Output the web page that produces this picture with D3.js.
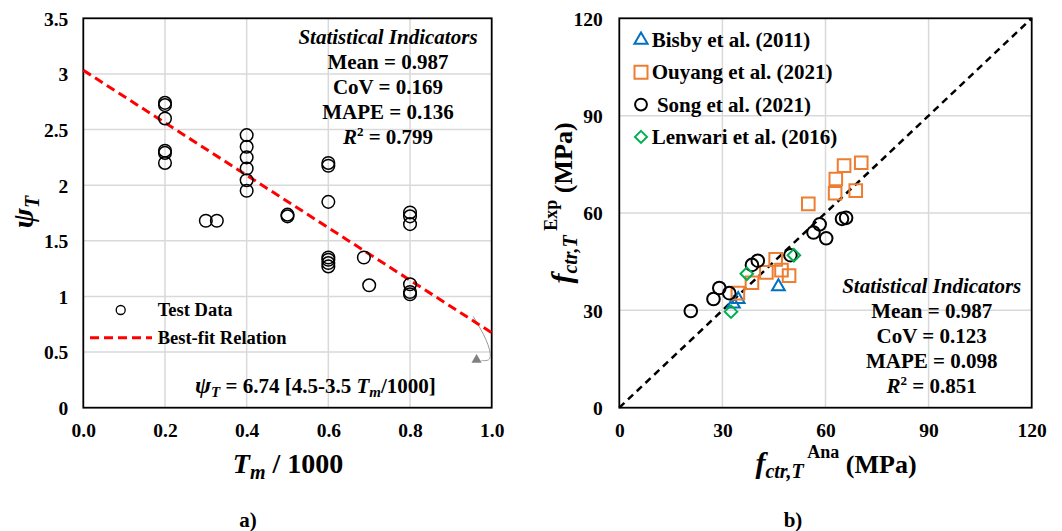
<!DOCTYPE html>
<html>
<head>
<meta charset="utf-8">
<script src="https://cdn.jsdelivr.net/npm/d3@7"></script>
<style>
  body { margin: 0; background: #fff; }
  svg { font-family: "Liberation Serif", "Times New Roman", serif; font-weight: bold; }
</style>
</head>
<body>
<svg id="chart" width="1062" height="531"></svg>
<script>
// ---- panel a) data ----
const tmVals  = [0.2, 0.2, 0.2, 0.2, 0.2, 0.2, 0.30, 0.327, 0.4, 0.4, 0.4, 0.4, 0.4, 0.4,
                 0.5, 0.5, 0.6, 0.6, 0.6, 0.6, 0.6, 0.6, 0.6, 0.687, 0.70, 0.8, 0.8, 0.8, 0.8, 0.8, 0.8];
const psiVals = [2.74, 2.72, 2.60, 2.31, 2.29, 2.20, 1.68, 1.68, 2.45, 2.345, 2.25, 2.15, 2.045, 1.95,
                 1.735, 1.72, 2.20, 2.175, 1.85, 1.35, 1.33, 1.30, 1.27, 1.35, 1.10, 1.755, 1.72, 1.65, 1.11, 1.04, 1.02];
const fitLine = [[0, 3.033], [1.0, 0.674]];
const arrowPath = [[0.955, 0.82], [0.99, 0.6], [1.0, 0.45], [0.99, 0.42], [0.975, 0.425]];
const arrowHead = [0.963, 0.43];
const xTicksA = [0, 0.2, 0.4, 0.6, 0.8, 1.0];
const yTicksA = [0, 0.5, 1, 1.5, 2, 2.5, 3, 3.5];
const statsA = ["Mean = 0.987", "CoV = 0.169", "MAPE = 0.136", "0.799"];

// ---- panel b) data ----
const bisby   = [[33.2, 32.0], [34.6, 33.4], [46.3, 37.3]];
const ouyang  = [[34.5, 35.3], [38.6, 38.5], [42.8, 41.7], [45.5, 45.7], [47.2, 42.4], [49.4, 40.7],
                 [55.0, 62.8], [62.8, 66.1], [63.0, 70.5], [65.4, 74.6], [70.4, 75.5], [68.8, 66.9]];
const song    = [[20.8, 29.8], [27.4, 33.5], [29.1, 36.9], [32.0, 35.3], [38.6, 44.0], [40.3, 45.3],
                 [49.8, 47.0], [56.5, 54.0], [58.3, 56.5], [60.2, 52.2], [64.8, 58.2], [66.0, 58.5]];
const lenwari = [[32.5, 29.6], [37.1, 41.3], [50.8, 47.0]];
const ticksB = [0, 30, 60, 90, 120];
const seriesB = [
  { name: "Bisby et al. (2011)",   data: bisby,   color: "#0070C0", shape: "triangle" },
  { name: "Ouyang et al. (2021)",  data: ouyang,  color: "#ED7D31", shape: "square" },
  { name: " Song et al. (2021)",   data: song,    color: "#000000", shape: "circle" },
  { name: "Lenwari et al. (2016)", data: lenwari, color: "#00B050", shape: "diamond" }
];
const statsB = ["Mean = 0.987", "CoV = 0.123", "MAPE = 0.098", "0.851"];

const svg = d3.select("#chart");
const grid = "#d9d9d9";
const tickFont = "19.5px";

// ================= panel a =================
const xA = d3.scaleLinear().domain([0, 1]).range([83.3, 491.7]);
const yA = d3.scaleLinear().domain([0, 3.5]).range([407.7, 18.3]);
const gA = svg.append("g");

gA.selectAll(".gx").data(xTicksA.slice(1, -1)).enter().append("line")
  .attr("x1", d => xA(d)).attr("x2", d => xA(d))
  .attr("y1", yA(0)).attr("y2", yA(3.5))
  .attr("stroke", grid).attr("stroke-width", 1.5);
gA.selectAll(".gy").data(yTicksA.slice(1, -1)).enter().append("line")
  .attr("x1", xA(0)).attr("x2", xA(1))
  .attr("y1", d => yA(d)).attr("y2", d => yA(d))
  .attr("stroke", grid).attr("stroke-width", 1.5);

gA.append("g")
  .attr("transform", `translate(0,${yA(0)})`)
  .call(d3.axisBottom(xA).tickValues(xTicksA).tickFormat(d3.format(".1f")).tickSize(0))
  .call(g => g.select(".domain").remove())
  .call(g => g.selectAll("text").attr("y", 29.5).attr("dy", 0)
    .style("font-size", tickFont).style("font-family", "Liberation Serif").style("font-weight", "bold").attr("fill", "#000"));

gA.append("g")
  .attr("transform", `translate(${xA(0)},0)`)
  .call(d3.axisLeft(yA).tickValues(yTicksA).tickFormat(d => d).tickSize(0))
  .call(g => g.select(".domain").remove())
  .call(g => g.selectAll("text").attr("x", -15).attr("dy", "0.35em")
    .style("font-size", tickFont).style("font-family", "Liberation Serif").style("font-weight", "bold").attr("fill", "#000"));

gA.append("rect")
  .attr("x", xA(0)).attr("y", yA(3.5))
  .attr("width", xA(1) - xA(0)).attr("height", yA(0) - yA(3.5))
  .attr("fill", "none").attr("stroke", "#000").attr("stroke-width", 1.8);

// leftover arrow annotation
gA.append("path")
  .attr("d", d3.line().x(d => xA(d[0])).y(d => yA(d[1])).curve(d3.curveBasis)(arrowPath))
  .attr("fill", "none").attr("stroke", "#999").attr("stroke-width", 1);
gA.append("path")
  .attr("d", d3.symbol(d3.symbolTriangle, 45)())
  .attr("transform", `translate(${xA(arrowHead[0])},${yA(arrowHead[1])})`)
  .attr("fill", "#808080");

gA.append("path")
  .attr("d", d3.line().x(d => xA(d[0])).y(d => yA(d[1]))(fitLine))
  .attr("stroke", "#ff0000").attr("stroke-width", 3).attr("stroke-dasharray", "9,5").attr("fill", "none");

gA.selectAll(".pt").data(tmVals).enter().append("circle")
  .attr("cx", d => xA(d)).attr("cy", (d, i) => yA(psiVals[i]))
  .attr("r", 6.3).attr("fill", "none").attr("stroke", "#000").attr("stroke-width", 1.5);

// stats a
const stA = gA.append("text").attr("text-anchor", "middle").style("font-size", "21px");
stA.append("tspan").attr("x", 388).attr("y", 43.5).style("font-style", "italic").text("Statistical Indicators");
statsA.slice(0, 3).forEach((s, i) => stA.append("tspan").attr("x", 388).attr("y", 68.5 + 25 * i).text(s));
const r2A = gA.append("text").attr("x", 388).attr("y", 143.5).attr("text-anchor", "middle").style("font-size", "21px");
r2A.append("tspan").style("font-style", "italic").text("R");
r2A.append("tspan").attr("dy", -8).style("font-size", "13px").text("2");
r2A.append("tspan").attr("dy", 8).text(" = " + statsA[3]);

// legend a
gA.append("circle").attr("cx", 120.7).attr("cy", 310).attr("r", 4.5)
  .attr("fill", "none").attr("stroke", "#000").attr("stroke-width", 1.3);
gA.append("text").attr("x", 157.7).attr("y", 316).style("font-size", "18.5px").text("Test Data");
gA.append("line").attr("x1", 90).attr("x2", 152).attr("y1", 337.7).attr("y2", 337.7)
  .attr("stroke", "#ff0000").attr("stroke-width", 3).attr("stroke-dasharray", "9,5");
gA.append("text").attr("x", 157.7).attr("y", 343.5).style("font-size", "18.5px").text("Best-fit Relation");

// formula
const fm = gA.append("text").attr("x", 195).attr("y", 393).style("font-size", "21px");
fm.append("tspan").style("font-style", "italic").style("font-size", "24px").text("ψ");
fm.append("tspan").style("font-style", "italic").style("font-size", "15px").attr("dy", 4).text("T");
fm.append("tspan").attr("dy", -4).text(" = 6.74 [4.5-3.5 ");
fm.append("tspan").style("font-style", "italic").text("T");
fm.append("tspan").style("font-style", "italic").style("font-size", "15px").attr("dy", 4).text("m");
fm.append("tspan").attr("dy", -4).text("/1000]");

// axis titles a
const xtA = gA.append("text").attr("x", 288).attr("y", 473).attr("text-anchor", "middle").style("font-size", "28px");
xtA.append("tspan").style("font-style", "italic").text("T");
xtA.append("tspan").style("font-style", "italic").style("font-size", "20px").attr("dy", 6).text("m");
xtA.append("tspan").attr("dy", -6).text(" / 1000");

const ytA = gA.append("text").attr("transform", `translate(33,${212}) rotate(-90)`)
  .attr("text-anchor", "middle").style("font-size", "30px");
ytA.append("tspan").style("font-style", "italic").text("ψ");
ytA.append("tspan").style("font-style", "italic").style("font-size", "20px").attr("dy", 6).text("T");

gA.append("text").attr("x", 248).attr("y", 527).attr("text-anchor", "middle").style("font-size", "21px").text("a)");

// ================= panel b =================
const xB = d3.scaleLinear().domain([0, 120]).range([619.3, 1031.7]);
const yB = d3.scaleLinear().domain([0, 120]).range([407.7, 18.3]);
const gB = svg.append("g");

gB.selectAll(".gx").data(ticksB.slice(1, -1)).enter().append("line")
  .attr("x1", d => xB(d)).attr("x2", d => xB(d))
  .attr("y1", yB(0)).attr("y2", yB(120))
  .attr("stroke", grid).attr("stroke-width", 1.5);
gB.selectAll(".gy").data(ticksB.slice(1, -1)).enter().append("line")
  .attr("x1", xB(0)).attr("x2", xB(120))
  .attr("y1", d => yB(d)).attr("y2", d => yB(d))
  .attr("stroke", grid).attr("stroke-width", 1.5);

gB.append("g")
  .attr("transform", `translate(0,${yB(0)})`)
  .call(d3.axisBottom(xB).tickValues(ticksB).tickSize(0))
  .call(g => g.select(".domain").remove())
  .call(g => g.selectAll("text").attr("y", 29.5).attr("dy", 0)
    .style("font-size", tickFont).style("font-family", "Liberation Serif").style("font-weight", "bold").attr("fill", "#000"));

gB.append("g")
  .attr("transform", `translate(${xB(0)},0)`)
  .call(d3.axisLeft(yB).tickValues(ticksB).tickSize(0))
  .call(g => g.select(".domain").remove())
  .call(g => g.selectAll("text").attr("x", -16.5).attr("dy", "0.35em")
    .style("font-size", tickFont).style("font-family", "Liberation Serif").style("font-weight", "bold").attr("fill", "#000"));

gB.append("rect")
  .attr("x", xB(0)).attr("y", yB(120))
  .attr("width", xB(120) - xB(0)).attr("height", yB(0) - yB(120))
  .attr("fill", "none").attr("stroke", "#000").attr("stroke-width", 1.8);

gB.append("line")
  .attr("x1", xB(0)).attr("y1", yB(0)).attr("x2", xB(120)).attr("y2", yB(120))
  .attr("stroke", "#000").attr("stroke-width", 2.5).attr("stroke-dasharray", "7,5");

function shapePath(shape) {
  if (shape === "triangle") return d3.symbol(d3.symbolTriangle, 70)();
  if (shape === "square") return "M-6.3,-6.3H6.3V6.3H-6.3Z";
  if (shape === "diamond") return "M0,-6.3L6.3,0L0,6.3L-6.3,0Z";
  return d3.symbol(d3.symbolCircle, 125)();
}

seriesB.forEach(s => {
  gB.selectAll(null).data(s.data).enter().append("path")
    .attr("d", shapePath(s.shape))
    .attr("transform", d => `translate(${xB(d[0])},${yB(d[1])})`)
    .attr("fill", "none").attr("stroke", s.color).attr("stroke-width", 2);
});

// legend b
seriesB.forEach((s, i) => {
  const cy = 40 + 32.3 * i;
  gB.append("path")
    .attr("d", s.shape === "square" ? "M-6.5,-6.5H6.5V6.5H-6.5Z" :
               s.shape === "circle" ? d3.symbol(d3.symbolCircle, 110)() :
               s.shape === "triangle" ? d3.symbol(d3.symbolTriangle, 75)() : "M0,-6L6,0L0,6L-6,0Z")
    .attr("transform", `translate(641,${cy})`)
    .attr("fill", "none").attr("stroke", s.color).attr("stroke-width", 2);
  gB.append("text").attr("x", 651.7).attr("y", cy + 7).style("font-size", "21px")
    .attr("xml:space", "preserve").style("white-space", "pre").text(s.name);
});

// stats b
const stB = gB.append("text").attr("text-anchor", "middle").style("font-size", "21px");
stB.append("tspan").attr("x", 931.7).attr("y", 293.3).style("font-style", "italic").text("Statistical Indicators");
statsB.slice(0, 3).forEach((s, i) => stB.append("tspan").attr("x", 931.7).attr("y", 318.3 + 25 * i).text(s));
const r2B = gB.append("text").attr("x", 931.7).attr("y", 393.3).attr("text-anchor", "middle").style("font-size", "21px");
r2B.append("tspan").style("font-style", "italic").text("R");
r2B.append("tspan").attr("dy", -8).style("font-size", "13px").text("2");
r2B.append("tspan").attr("dy", 8).text(" = " + statsB[3]);

// axis titles b
const xtB = gB.append("text").attr("x", 836).attr("y", 473).attr("text-anchor", "middle").style("font-size", "26px")
  .attr("xml:space", "preserve").style("white-space", "pre");
xtB.append("tspan").style("font-style", "italic").style("font-size", "30px").text("f");
xtB.append("tspan").style("font-style", "italic").style("font-size", "20px").attr("dy", 5).text("ctr,T");
xtB.append("tspan").style("font-size", "18px").attr("dy", -20).text(" Ana");
xtB.append("tspan").attr("dy", 15).text(" (MPa)");

const ytB = gB.append("text").attr("transform", `translate(572,203) rotate(-90)`)
  .attr("text-anchor", "middle").style("font-size", "26px")
  .attr("xml:space", "preserve").style("white-space", "pre");
ytB.append("tspan").style("font-style", "italic").style("font-size", "30px").text("f");
ytB.append("tspan").style("font-style", "italic").style("font-size", "20px").attr("dy", 5).text("ctr,T");
ytB.append("tspan").style("font-size", "18px").attr("dy", -20).text(" Exp");
ytB.append("tspan").attr("dy", 15).text(" (MPa)");

gB.append("text").attr("x", 793).attr("y", 527).attr("text-anchor", "middle").style("font-size", "21px").text("b)");
</script>
</body>
</html>
